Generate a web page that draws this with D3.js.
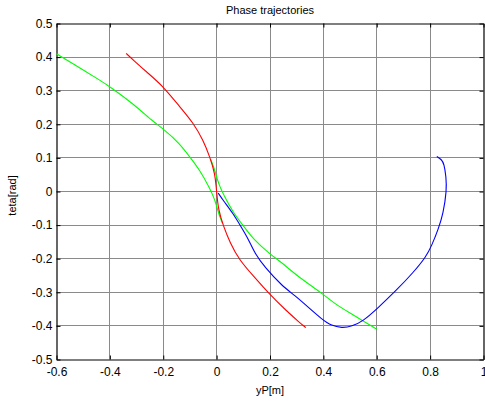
<!DOCTYPE html>
<html>
<head>
<meta charset="utf-8">
<script src="https://cdn.jsdelivr.net/npm/d3@7"></script>
<style>
  body { margin: 0; background: #fff; }
  svg text { font-family: "Liberation Sans", Arial, sans-serif; fill: #000; }
</style>
</head>
<body>
<div id="chartContainer"></div>
<script>
const margin={top:23,right:2,bottom:44,left:56},
    width=485-margin.left-margin.right,
    height=403-margin.top-margin.bottom;

// tick values
const xTicks=[-0.6,-0.4,-0.2,0,0.2,0.4,0.6,0.8,1];
const yTicks=[-0.5,-0.4,-0.3,-0.2,-0.1,0,0.1,0.2,0.3,0.4,0.5];

// red trajectory (yP, teta)
const redX=[-0.339,-0.312,-0.26,-0.2,-0.137,-0.087,-0.05,-0.025,-0.006,0,0.006,0.025,0.05,0.085,0.137,0.197,0.26,0.312,0.334];
const redY=[0.411,0.391,0.354,0.313,0.251,0.204,0.152,0.102,0.053,0,-0.053,-0.102,-0.152,-0.204,-0.251,-0.305,-0.354,-0.391,-0.405];

// green trajectories, two arms
const green1X=[-0.6,-0.5,-0.437,-0.4,-0.312,-0.237,-0.2,-0.137,-0.1,-0.062,-0.025,-0.012,-0.003,0.004,0.012,0.022];
const green1Y=[0.41,0.362,0.331,0.312,0.261,0.207,0.187,0.142,0.102,0.063,0.008,-0.015,-0.035,-0.055,-0.075,-0.095];
const green2X=[0.6,0.5,0.437,0.394,0.312,0.237,0.2,0.137,0.1,0.062,0.025,0.012,0.003,-0.004,-0.012,-0.022];
const green2Y=[-0.41,-0.362,-0.331,-0.302,-0.258,-0.207,-0.187,-0.142,-0.102,-0.063,-0.008,0.015,0.035,0.055,0.075,0.095];

// blue trajectory
const blueX=[0.825,0.843,0.852,0.86,0.862,0.849,0.831,0.806,0.785,0.737,0.675,0.6,0.55,0.506,0.469,0.431,0.394,0.344,0.294,0.244,0.181,0.144,0.12,0.09,0.062,0.025,0.006];
const blueY=[0.104,0.095,0.083,0.043,0.003,-0.066,-0.111,-0.161,-0.194,-0.241,-0.293,-0.35,-0.385,-0.402,-0.406,-0.4,-0.38,-0.345,-0.31,-0.28,-0.226,-0.186,-0.143,-0.103,-0.066,-0.027,-0.005];

const x=d3.scaleLinear().domain([-0.6,1]).range([0,width]);
const y=d3.scaleLinear().domain([-0.5,0.5]).range([height,0]);

const svg=d3.select("#chartContainer")
    .append("svg")
    .attr("width",485)
    .attr("height",403)
    .append("g")
    .attr("transform",`translate(${margin.left+0.5},${margin.top+0.5})`);

// grid
svg.selectAll(".vgrid")
    .data(xTicks.slice(1,-1))
    .enter()
    .append("line")
    .attr("x1",d=>Math.round(x(d))).attr("x2",d=>Math.round(x(d)))
    .attr("y1",0).attr("y2",height)
    .style("stroke","#8a8a8a").style("stroke-width",1);
svg.selectAll(".hgrid")
    .data(yTicks.slice(1,-1))
    .enter()
    .append("line")
    .attr("x1",0).attr("x2",width)
    .attr("y1",d=>Math.round(y(d))).attr("y2",d=>Math.round(y(d)))
    .style("stroke","#8a8a8a").style("stroke-width",1);

// axes (plain hyphen minus like the original)
const fmt=d=>String(d);
const bottomAxis=svg.append("g")
    .attr("transform",`translate(0,${height})`)
    .call(d3.axisBottom(x).tickValues(xTicks).tickFormat(fmt).tickSizeInner(-4).tickSizeOuter(0).tickPadding(8));
const topAxis=svg.append("g")
    .call(d3.axisTop(x).tickValues(xTicks).tickFormat("").tickSizeInner(-4).tickSizeOuter(0));
const leftAxis=svg.append("g")
    .call(d3.axisLeft(y).tickValues(yTicks).tickFormat(fmt).tickSizeInner(-4).tickSizeOuter(0).tickPadding(4));
const rightAxis=svg.append("g")
    .attr("transform",`translate(${width},0)`)
    .call(d3.axisRight(y).tickValues(yTicks).tickFormat("").tickSizeInner(-4).tickSizeOuter(0));
[bottomAxis,topAxis,leftAxis,rightAxis].forEach(a=>{
    a.selectAll("text").style("font-size","12px").style("font-family","Liberation Sans, Arial, sans-serif");
    a.selectAll("line").style("stroke","#000");
    a.select(".domain").style("stroke","#000").style("stroke-width",1.2);
});

// curves, smoothed through the read points
const line=d3.line().curve(d3.curveBasis).x(d=>x(d[0])).y(d=>y(d[1]));
const series=[
    {xs:green1X,ys:green1Y,color:"#00ff00"},
    {xs:green2X,ys:green2Y,color:"#00ff00"},
    {xs:redX,ys:redY,color:"#ff0000"},
    {xs:blueX,ys:blueY,color:"#0000ff"}
];
svg.selectAll(".traj")
    .data(series)
    .enter()
    .append("path")
    .attr("class","traj")
    .attr("d",s=>line(d3.zip(s.xs,s.ys)))
    .style("fill","none")
    .style("stroke",s=>s.color)
    .style("stroke-width",1.1);

// labels
svg.append("text")
    .attr("x",width/2)
    .attr("y",-10)
    .style("text-anchor","middle")
    .style("font-size","11px")
    .text("Phase trajectories");
svg.append("text")
    .attr("x",width/2)
    .attr("y",height+34)
    .style("text-anchor","middle")
    .style("font-size","11px")
    .text("yP[m]");
svg.append("text")
    .attr("transform",`translate(${-41},${height/2+4}) rotate(-90)`)
    .style("text-anchor","middle")
    .style("font-size","11px")
    .text("teta[rad]");
</script>
</body>
</html>
